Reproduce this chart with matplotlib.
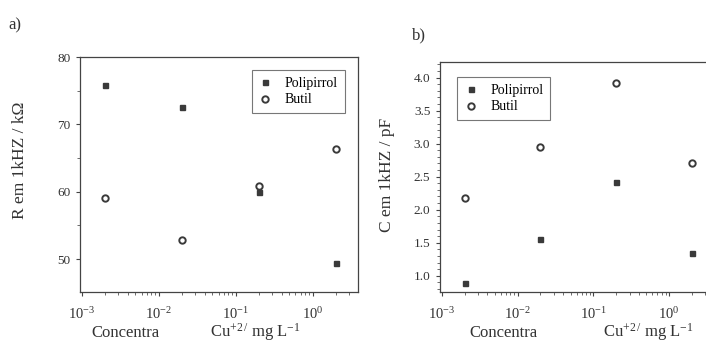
import matplotlib
matplotlib.use("Agg")
import matplotlib.pyplot as plt
from matplotlib.ticker import LogLocator, LogFormatterMathtext, MultipleLocator, NullFormatter

plt.rcParams['font.family'] = ['Liberation Serif', 'DejaVu Serif']
plt.rcParams['mathtext.fontset'] = 'custom'
plt.rcParams['mathtext.rm'] = 'Liberation Serif'
plt.rcParams['mathtext.it'] = 'Liberation Serif:italic'
plt.rcParams['mathtext.bf'] = 'Liberation Serif:bold'

# Data
conc = [2e-3, 2e-2, 2e-1, 2e0]
R_polipirrol = [75.9, 72.6, 59.9, 49.4]
R_butil = [59.0, 52.8, 60.9, 66.3]
C_polipirrol = [0.89, 1.55, 2.42, 1.35]
C_butil = [2.17, 2.95, 3.92, 2.70]
series_names = ["Polipirrol", "Butil"]

W, H = 706, 349
fig = plt.figure(figsize=(W / 100, H / 100), dpi=100)

def box(l, r, t, b):
    return [l / W, 1 - b / H, (r - l) / W, (b - t) / H]

ax1 = fig.add_axes(box(80, 358, 57, 292))
ax2 = fig.add_axes(box(440, 714, 61.7, 292.3))

sq_kw = dict(marker='s', linestyle='none', markersize=3.6, color='#3a3a3a', mec='#3a3a3a')
ci_kw = dict(marker='o', linestyle='none', markersize=4.6, mfc='white', mec='#3a3a3a', mew=1.4)

for ax, yp, yb in [(ax1, R_polipirrol, R_butil), (ax2, C_polipirrol, C_butil)]:
    ax.plot(conc, yp, label=series_names[0], **sq_kw)
    ax.plot(conc, yb, label=series_names[1], **ci_kw)
    ax.set_xscale('log')
    ax.set_xlim(9.5e-4, 3.9)
    ax.xaxis.set_major_locator(LogLocator(base=10, numticks=10))
    ax.xaxis.set_major_formatter(LogFormatterMathtext())
    ax.xaxis.set_minor_locator(LogLocator(base=10, subs=range(2, 10), numticks=10))
    ax.xaxis.set_minor_formatter(NullFormatter())
    ax.tick_params(axis='both', which='major', direction='out', length=3, width=0.8,
                   colors='#444444', labelcolor='#333333')
    ax.tick_params(axis='x', which='major', labelsize=10.5, pad=7)
    ax.tick_params(axis='y', which='major', labelsize=9.5, pad=4)
    ax.tick_params(axis='both', which='minor', direction='out', length=2, width=0.6,
                   colors='#555555')
    for s in ax.spines.values():
        s.set_linewidth(0.9)
        s.set_color('#444444')

ax1.set_ylim(45.1, 80)
ax1.yaxis.set_major_locator(MultipleLocator(10))
ax1.yaxis.set_minor_locator(MultipleLocator(5))
ax2.set_ylim(0.75, 4.24)
ax2.yaxis.set_major_locator(MultipleLocator(0.5))
ax2.yaxis.set_minor_locator(MultipleLocator(0.1))
ax2.yaxis.set_major_formatter(matplotlib.ticker.FormatStrFormatter('%.1f'))

leg_kw = dict(fontsize=10, frameon=True, fancybox=False, edgecolor='#555555',
              handlelength=1.0, handletextpad=0.9, borderpad=0.5, labelspacing=0.25,
              borderaxespad=0)
l1 = ax1.legend(loc='upper right', bbox_to_anchor=(345 / W, 1 - 70 / H),
                bbox_transform=fig.transFigure, **leg_kw)
l2 = ax2.legend(loc='upper left', bbox_to_anchor=(457 / W, 1 - 77 / H),
                bbox_transform=fig.transFigure, **leg_kw)
for l in (l1, l2):
    l.get_frame().set_linewidth(0.8)

ax1.set_ylabel("R em 1kHZ / k\u03a9", fontsize=12.5, color='#333333')
ax1.yaxis.set_label_coords(28 / W, 1 - 160 / H, transform=fig.transFigure)
ax2.set_ylabel("C em 1kHZ / pF", fontsize=12.5, color='#333333')
ax2.yaxis.set_label_coords(395 / W, 1 - 175 / H, transform=fig.transFigure)

txt_kw = dict(fontsize=12, color='#333333', ha='center', va='center')
fig.text(125 / W, 1 - 333 / H, "Concentra", **txt_kw)
fig.text(255 / W, 1 - 332 / H, r"Cu$^{+2\,/}$ mg L$^{-1}$", **txt_kw)
fig.text(503 / W, 1 - 333 / H, "Concentra", **txt_kw)
fig.text(648 / W, 1 - 332 / H, r"Cu$^{+2\,/}$ mg L$^{-1}$", **txt_kw)

fig.text(8 / W, 1 - 25 / H, "a)", fontsize=12, color='#333333', va='center')
fig.text(412 / W, 1 - 35 / H, "b)", fontsize=12, color='#333333', va='center')

fig.savefig("out.png", dpi=100)
